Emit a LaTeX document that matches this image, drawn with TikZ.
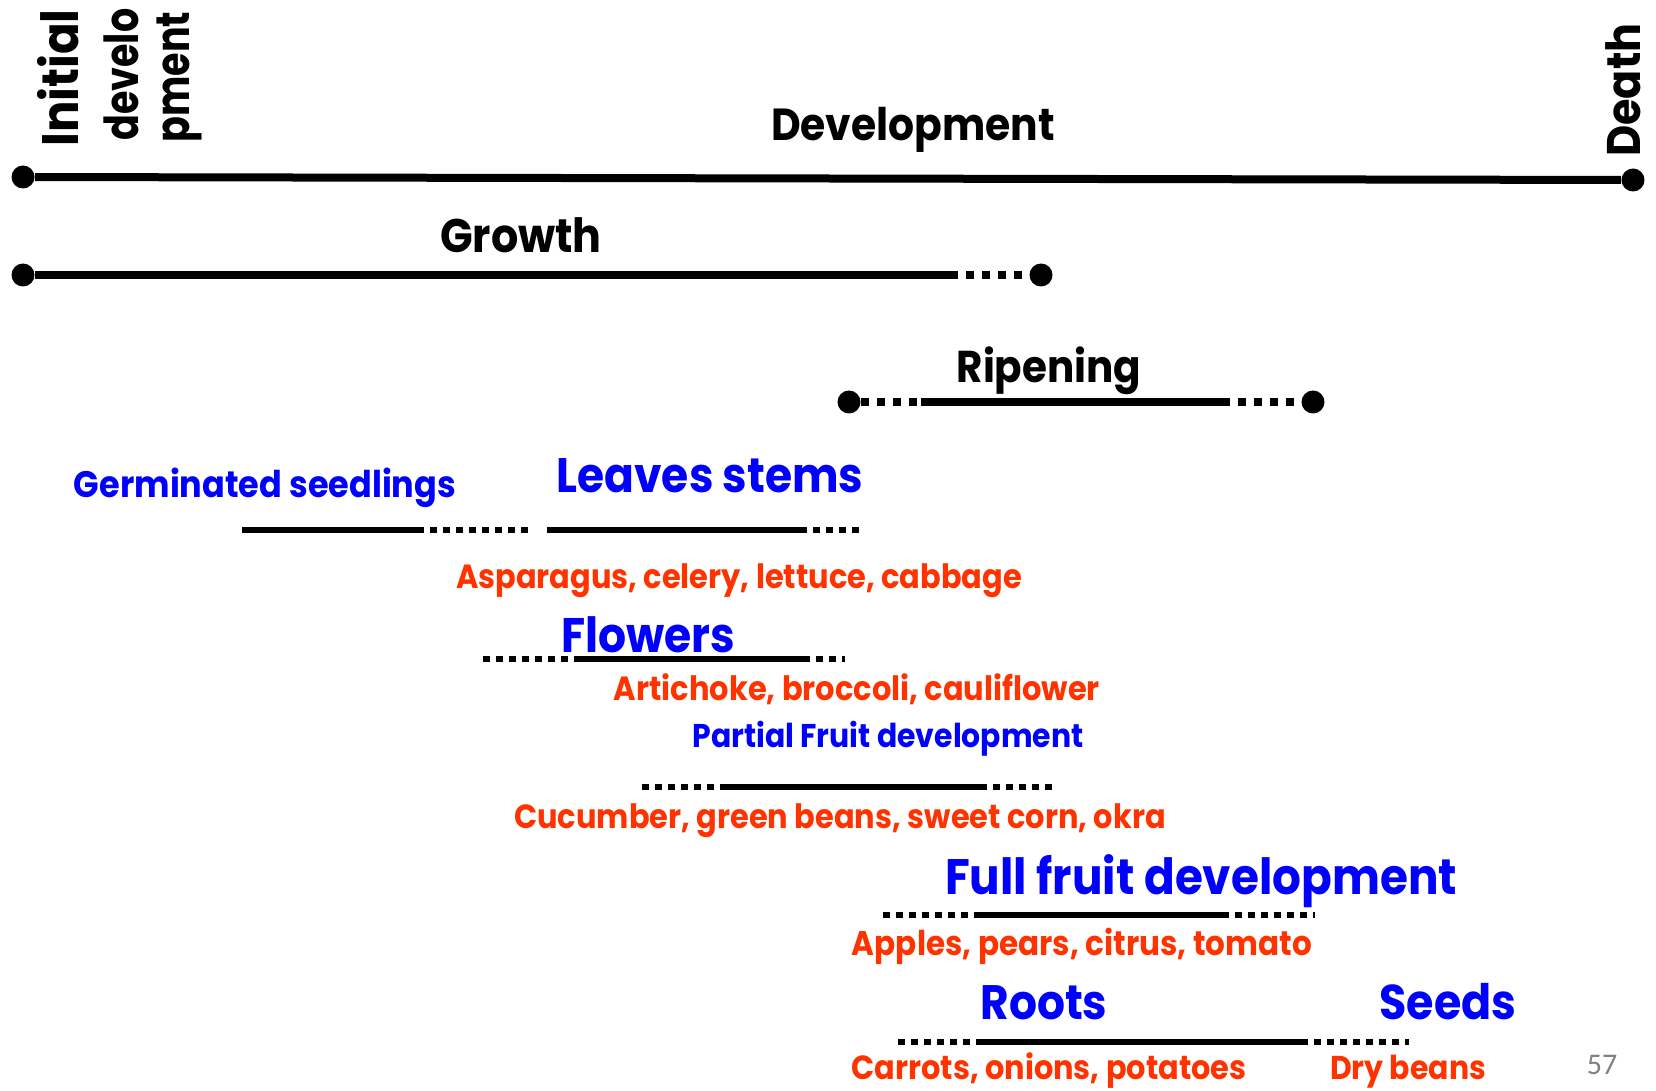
\documentclass[tikz,border=0pt]{standalone}
\usepackage{fontspec}
\setmainfont{Poppins}
\newfontfamily\numfont{Carlito}
\definecolor{lblue}{RGB}{0,0,255}
\definecolor{lred}{RGB}{255,51,0}
\definecolor{pgray}{RGB}{128,128,128}
\newcommand{\fitw}[2]{\scalebox{1}[1.1]{\resizebox{#1}{!}{#2}}}
\begin{document}
\begin{tikzpicture}[x=0.5pt,y=-0.5pt,
  dot/.style={circle,fill=black,inner sep=0,minimum size=11.5pt},
  solidA/.style={line width=4pt},
  dotA/.style={line width=4pt,dash pattern=on 4pt off 4pt},
  solidB/.style={line width=3.25pt},
  dotB/.style={line width=3.25pt,dash pattern=on 3.5pt off 3pt},
  blk/.style={inner sep=0,anchor=base,font=\bfseries\fontsize{22}{26}\selectfont},
  vert/.style={inner sep=0,rotate=90,anchor=base west,font=\bfseries\fontsize{22}{26}\selectfont},
  bigb/.style={inner sep=0,anchor=base,text=lblue,font=\bfseries\fontsize{24}{28}\selectfont},
  smb/.style={inner sep=0,anchor=base,text=lblue,font=\bfseries\fontsize{17}{20}\selectfont},
  veg/.style={inner sep=0,anchor=base,text=lred,font=\bfseries\fontsize{14}{17}\selectfont}]
\useasboundingbox (0,0) rectangle (1656,1091);

% top labels
\node[vert] (init1) at (79,147) {\fitw{68.5pt}{Initial}};
\node[vert] (init2) at (138,141) {\scalebox{1}[1.12]{\fitw{66pt}{develo}}};
\node[vert] (init3) at (189,143) {\scalebox{1}[1.12]{\fitw{65.5pt}{pment}}};
\node[vert] (death) at (1640,157) {\fitw{66.5pt}{Death}};
\node[blk] (dev) at (913,141) {\fitw{142pt}{Development}};
\node[blk] (grow) at (521,253) {\fitw{80.8pt}{Growth}};
\node[blk] (ripe) at (1049,382) {\fitw{92.4pt}{Ripening}};

% Development line
\node[dot] (d1) at (23,177) {};
\node[dot] (d2) at (1633,180) {};
\draw[solidA] (d1) -- (d2);

% Growth line
\node[dot] (g1) at (23,275) {};
\coordinate (g2) at (950,275);
\node[dot] (g3) at (1041,275) {};
\draw[solidA] (g1) -- (g2);
\draw[dotA] (g2) -- (g3);

% Ripening line
\node[dot] (r1) at (849,402) {};
\coordinate (r2) at (921,402);
\coordinate (r3) at (1222,402);
\node[dot] (r4) at (1313,402) {};
\draw[dotA] (r1) -- (r2);
\draw[solidA] (r2) -- (r3);
\draw[dotA] (r3) -- (r4);

% Row 1: seedlings, leaves stems
\node[smb] (germ) at (265,497) {\fitw{191pt}{Germinated seedlings}};
\node[bigb] (leaves) at (710,493) {\fitw{153.5pt}{Leaves stems}};
\coordinate (s1a) at (242,530);
\coordinate (s1b) at (417,530);
\coordinate (s1c) at (530,530);
\coordinate (s1d) at (547,530);
\coordinate (s1e) at (800,530);
\coordinate (s1f) at (860,530);
\draw[solidB] (s1a) -- (s1b);
\draw[dotB] (s1b) -- (s1c);
\draw[solidB] (s1d) -- (s1e);
\draw[dotB] (s1e) -- (s1f);
\node[veg] (asp) at (739,588) {\fitw{283pt}{Asparagus, celery, lettuce, cabbage}};

% Flowers
\node[bigb] (flow) at (648,652) {\fitw{87pt}{Flowers}};
\coordinate (f1) at (483,659);
\coordinate (f2) at (579,659);
\coordinate (f3) at (803,659);
\coordinate (f4) at (845,659);
\draw[dotB] (f1) -- (f2);
\draw[solidB] (f2) -- (f3);
\draw[dotB] (f3) -- (f4);
\node[veg] (art) at (857,700) {\fitw{243pt}{Artichoke, broccoli, cauliflower}};

% Partial fruit
\node[smb] (part) at (888,747) {\fitw{195.5pt}{Partial Fruit development}};
\coordinate (p1) at (642,787);
\coordinate (p2) at (721,787);
\coordinate (p3) at (980,787);
\coordinate (p4) at (1054,787);
\draw[dotB] (p1) -- (p2);
\draw[solidB] (p2) -- (p3);
\draw[dotB] (p3) -- (p4);
\node[veg] (cuc) at (840,828) {\fitw{325.8pt}{Cucumber, green beans, sweet corn, okra}};

% Full fruit
\node[bigb] (full) at (1201,894) {\fitw{256pt}{Full fruit development}};
\coordinate (q1) at (883,915);
\coordinate (q2) at (977,915);
\coordinate (q3) at (1222,915);
\coordinate (q4) at (1315,915);
\draw[dotB] (q1) -- (q2);
\draw[solidB] (q2) -- (q3);
\draw[dotB] (q3) -- (q4);
\node[veg] (app) at (1082,955) {\fitw{230pt}{Apples, pears, citrus, tomato}};

% Roots and seeds
\node[bigb] (roots) at (1044,1019) {\fitw{63.5pt}{Roots}};
\node[bigb] (seeds) at (1448,1019) {\fitw{68.5pt}{Seeds}};
\coordinate (t1) at (898,1042);
\coordinate (t2) at (980,1042);
\coordinate (t3) at (1301,1042);
\coordinate (t4) at (1409,1042);
\draw[dotB] (t1) -- (t2);
\draw[solidB] (t2) -- (t3);
\draw[dotB] (t3) -- (t4);
\node[veg] (carr) at (1049,1079) {\fitw{197.5pt}{Carrots, onions, potatoes}};
\node[veg] (dry) at (1408,1079) {\fitw{78pt}{Dry beans}};

% page number
\node[inner sep=0,anchor=base,text=pgray,font=\numfont\fontsize{15}{18}\selectfont] (pg) at (1602,1074) {57};
\end{tikzpicture}
\end{document}
